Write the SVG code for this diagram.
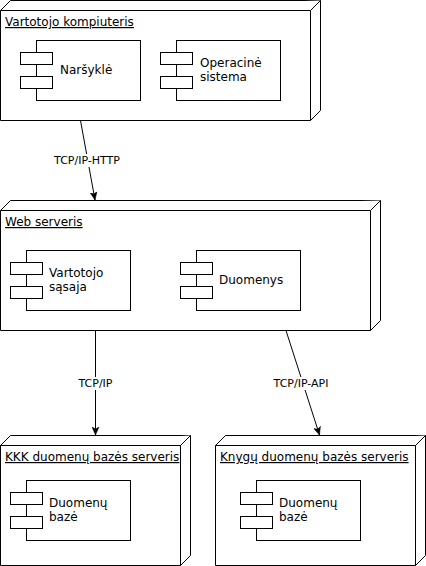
<svg xmlns="http://www.w3.org/2000/svg" width="426" height="566" viewBox="0 0 426 566">
<defs>
<style>
.n{fill:#fff;stroke:#000;stroke-width:1}
.t{font-family:"DejaVu Sans",sans-serif;font-size:12px;fill:#000}
.u{text-decoration:underline}
.e{fill:none;stroke:#000;stroke-width:1}
.l{font-family:"DejaVu Sans",sans-serif;font-size:11px;fill:#000;text-anchor:middle}
.lb{fill:#fff;stroke:none}
</style>
<marker id="arr" markerUnits="userSpaceOnUse" viewBox="0 0 8 8" refX="8" refY="4" markerWidth="8" markerHeight="8" orient="auto">
<path d="M8,4 L0,0.5 L2,4 L0,7.5 Z" fill="#000" stroke="#000" stroke-width="0.5"/>
</marker>
</defs>
<rect width="426" height="566" fill="#fff"/>

<g id="edges">
<path class="e" d="M80.5,120.5 L95,200" marker-end="url(#arr)"/>
<rect class="lb" x="53" y="154" width="68" height="13"/>
<text class="l" x="87" y="164">TCP/IP-HTTP</text>
<path class="e" d="M95.5,330.5 L95.5,435" marker-end="url(#arr)"/>
<rect class="lb" x="77" y="377" width="37" height="13"/>
<text class="l" x="95.5" y="387">TCP/IP</text>
<path class="e" d="M286,330.5 L319.5,435" marker-end="url(#arr)"/>
<rect class="lb" x="273" y="377" width="57" height="13"/>
<text class="l" x="301" y="387">TCP/IP-API</text>
</g>

<g id="node-vartotojo-kompiuteris">
<path class="n" d="M0.5,10.5 L10.5,0.5 L320.5,0.5 L320.5,110.5 L310.5,120.5 L0.5,120.5 Z"/>
<path class="n" d="M0.5,10.5 L310.5,10.5 L320.5,0.5 M310.5,10.5 L310.5,120.5"/>
<text class="t u" x="5" y="26">Vartotojo kompiuteris</text>
</g>
<g id="comp-narsykle">
<rect class="n" x="36.5" y="40.5" width="104" height="60"/>
<rect class="n" x="20.5" y="52.5" width="32" height="12"/>
<rect class="n" x="20.5" y="76.5" width="32" height="12"/>
<text class="t" x="60" y="74">Naršyklė</text>
</g>
<g id="comp-operacine-sistema">
<rect class="n" x="176.5" y="40.5" width="104" height="60"/>
<rect class="n" x="160.5" y="52.5" width="32" height="12"/>
<rect class="n" x="160.5" y="76.5" width="32" height="12"/>
<text class="t" x="200" y="67">Operacinė</text>
<text class="t" x="200" y="81">sistema</text>
</g>

<g id="node-web-serveris">
<path class="n" d="M0.5,210.5 L10.5,200.5 L380.5,200.5 L380.5,320.5 L370.5,330.5 L0.5,330.5 Z"/>
<path class="n" d="M0.5,210.5 L370.5,210.5 L380.5,200.5 M370.5,210.5 L370.5,330.5"/>
<text class="t u" x="5" y="226">Web serveris</text>
</g>
<g id="comp-vartotojo-sasaja">
<rect class="n" x="26.5" y="250.5" width="104" height="60"/>
<rect class="n" x="10.5" y="262.5" width="32" height="12"/>
<rect class="n" x="10.5" y="286.5" width="32" height="12"/>
<text class="t" x="49" y="277">Vartotojo</text>
<text class="t" x="49" y="291">sąsaja</text>
</g>
<g id="comp-duomenys">
<rect class="n" x="196.5" y="250.5" width="104" height="60"/>
<rect class="n" x="180.5" y="262.5" width="32" height="12"/>
<rect class="n" x="180.5" y="286.5" width="32" height="12"/>
<text class="t" x="219" y="284">Duomenys</text>
</g>

<g id="node-kkk">
<path class="n" d="M0.5,445.5 L10.5,435.5 L190.5,435.5 L190.5,555.5 L180.5,565.5 L0.5,565.5 Z"/>
<path class="n" d="M0.5,445.5 L180.5,445.5 L190.5,435.5 M180.5,445.5 L180.5,565.5"/>
<text class="t u" x="5" y="461">KKK duomenų bazės serveris</text>
</g>
<g id="comp-kkk-db">
<rect class="n" x="26.5" y="480.5" width="104" height="60"/>
<rect class="n" x="10.5" y="492.5" width="32" height="12"/>
<rect class="n" x="10.5" y="516.5" width="32" height="12"/>
<text class="t" x="49" y="507">Duomenų</text>
<text class="t" x="49" y="521">bazė</text>
</g>

<g id="node-knygu">
<path class="n" d="M215.5,445.5 L225.5,435.5 L425.5,435.5 L425.5,555.5 L415.5,565.5 L215.5,565.5 Z"/>
<path class="n" d="M215.5,445.5 L415.5,445.5 L425.5,435.5 M415.5,445.5 L415.5,565.5"/>
<text class="t u" x="220" y="461">Knygų duomenų bazės serveris</text>
</g>
<g id="comp-knygu-db">
<rect class="n" x="256.5" y="480.5" width="104" height="60"/>
<rect class="n" x="240.5" y="492.5" width="32" height="12"/>
<rect class="n" x="240.5" y="516.5" width="32" height="12"/>
<text class="t" x="279" y="507">Duomenų</text>
<text class="t" x="279" y="521">bazė</text>
</g>
</svg>
